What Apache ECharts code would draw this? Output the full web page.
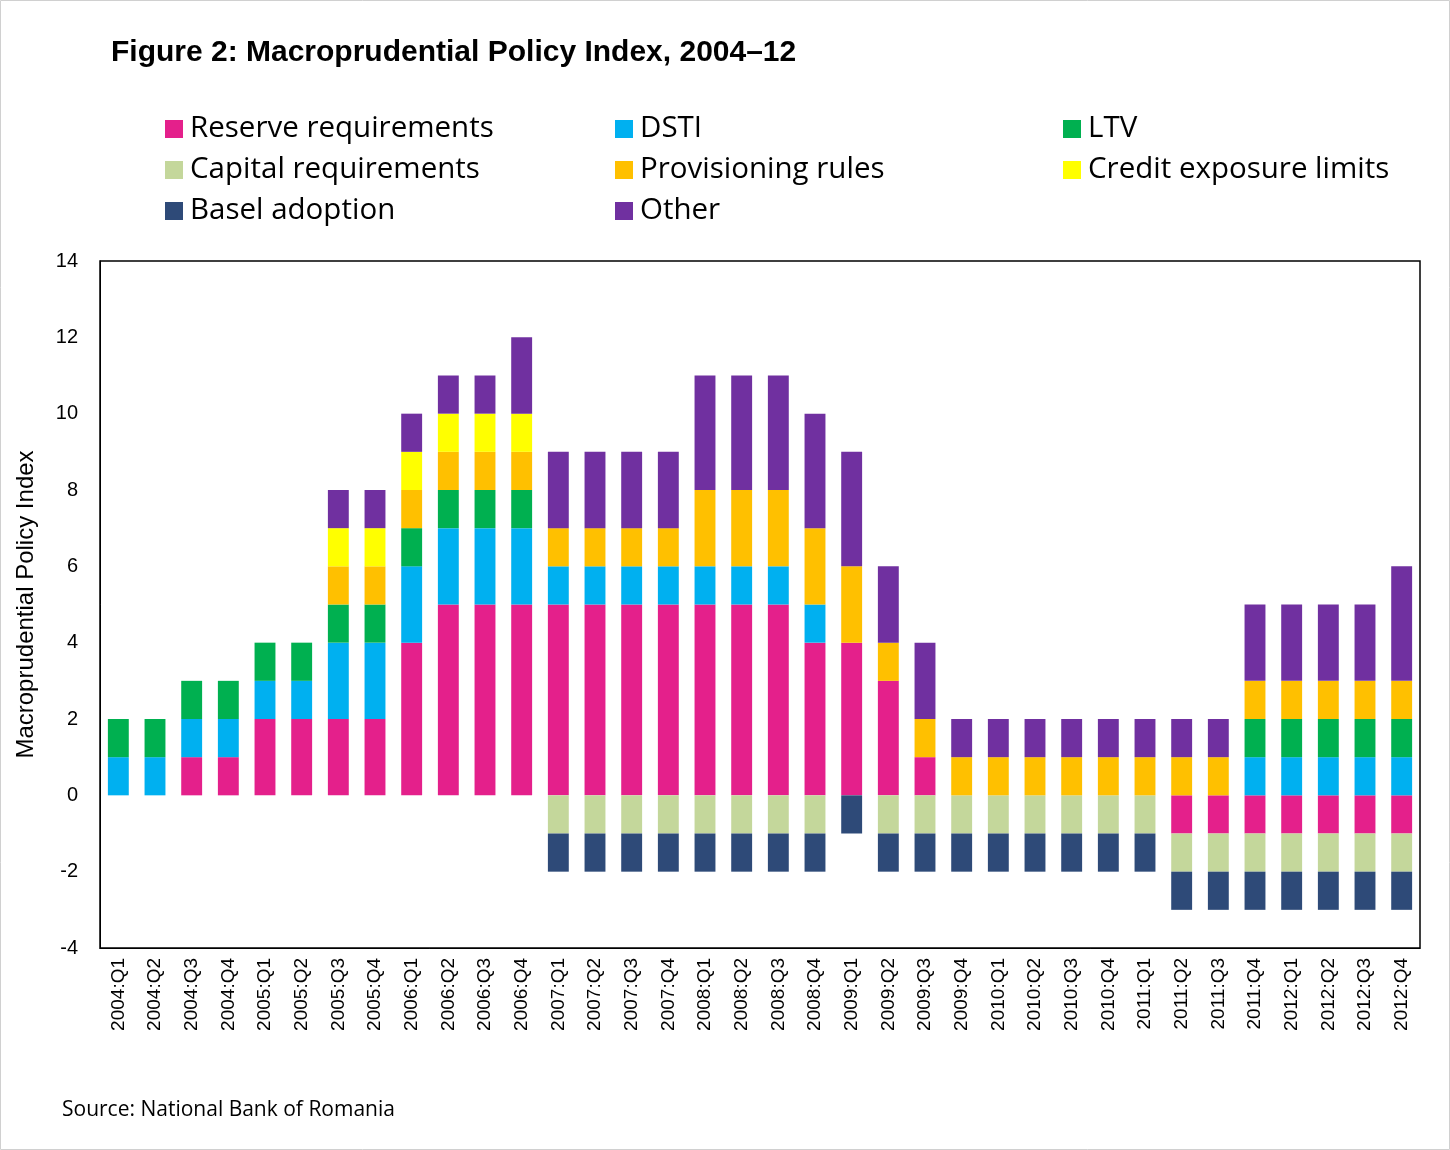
<!DOCTYPE html>
<html><head><meta charset="utf-8">
<script src="https://cdn.jsdelivr.net/npm/echarts@6/dist/echarts.min.js"></script>
<style>html,body{margin:0;padding:0;background:#fff}#c{width:1450px;height:1150px}</style>
</head><body><div id="c"></div>
<script>
const categories=[];
for(let y=2004;y<=2012;y++)for(let q=1;q<=4;q++)categories.push(y+':Q'+q);
const reserve=[0,0,1,1,2,2,2,2,4,5,5,5,5,5,5,5,5,5,5,4,4,3,1,0,0,0,0,0,0,-1,-1,-1,-1,-1,-1,-1];
const dsti=[1,1,1,1,1,1,2,2,2,2,2,2,1,1,1,1,1,1,1,1,0,0,0,0,0,0,0,0,0,0,0,1,1,1,1,1];
const ltv=[1,1,1,1,1,1,1,1,1,1,1,1,0,0,0,0,0,0,0,0,0,0,0,0,0,0,0,0,0,0,0,1,1,1,1,1];
const capital=[0,0,0,0,0,0,0,0,0,0,0,0,-1,-1,-1,-1,-1,-1,-1,-1,0,-1,-1,-1,-1,-1,-1,-1,-1,-1,-1,-1,-1,-1,-1,-1];
const provisioning=[0,0,0,0,0,0,1,1,1,1,1,1,1,1,1,1,2,2,2,2,2,1,1,1,1,1,1,1,1,1,1,1,1,1,1,1];
const credit=[0,0,0,0,0,0,1,1,1,1,1,1,0,0,0,0,0,0,0,0,0,0,0,0,0,0,0,0,0,0,0,0,0,0,0,0];
const basel=[0,0,0,0,0,0,0,0,0,0,0,0,-1,-1,-1,-1,-1,-1,-1,-1,-1,-1,-1,-1,-1,-1,-1,-1,-1,-1,-1,-1,-1,-1,-1,-1];
const other=[0,0,0,0,0,0,1,1,1,1,1,2,2,2,2,2,3,3,3,3,3,2,2,1,1,1,1,1,1,1,1,2,2,2,2,3];
const yTicks={min:-4,max:14,interval:2};
const S=[
 ['Reserve requirements',reserve,'#E4208B'],
 ['DSTI',dsti,'#00B0F0'],
 ['LTV',ltv,'#00B050'],
 ['Capital requirements',capital,'#C4D79B'],
 ['Provisioning rules',provisioning,'#FFC000'],
 ['Credit exposure limits',credit,'#FFFF00'],
 ['Basel adoption',basel,'#2E4A78'],
 ['Other',other,'#7030A0']];
const lg=(left,data)=>({left:left,top:109,orient:'vertical',itemWidth:18,itemHeight:18,itemGap:11,icon:'rect',
  data:data,textStyle:{fontFamily:'Open Sans',fontSize:29.5,color:'#000',padding:[0,0,0,2]},selectedMode:false});
const chart=echarts.init(document.getElementById('c'));
chart.setOption({
 animation:false,
 title:{text:'Figure 2: Macroprudential Policy Index, 2004–12',left:106,top:33,
   textStyle:{fontFamily:'Liberation Sans',fontWeight:'bold',fontSize:30,color:'#000'}},
 graphic:[{type:'text',left:62,top:1100,style:{text:'Source: National Bank of Romania',font:'21px "Open Sans"',fill:'#000'}},
  {type:'rect',shape:{x:0.5,y:0.5,width:1449,height:1149},style:{fill:'none',stroke:'#d0d0d0'}}],
 legend:[lg(160,['Reserve requirements','Capital requirements','Basel adoption']),
   lg(610,['DSTI','Provisioning rules','Other']),
   lg(1058,['LTV','Credit exposure limits'])],
 grid:{left:100,right:30,top:261,bottom:202,show:true,borderColor:'#000',borderWidth:1.5,backgroundColor:'transparent'},
 xAxis:{type:'category',data:categories,axisLine:{onZero:false,lineStyle:{color:'#000'}},axisTick:{show:false},
   axisLabel:{rotate:90,fontFamily:'Liberation Sans',fontSize:19,color:'#000',interval:0,margin:10}},
 yAxis:{type:'value',min:yTicks.min,max:yTicks.max,interval:yTicks.interval,splitLine:{show:false},
   axisLine:{show:true,lineStyle:{color:'#000'}},axisTick:{show:false},
   axisLabel:{fontFamily:'Liberation Sans',fontSize:20,color:'#000',margin:22},
   name:'Macroprudential Policy Index',nameLocation:'middle',nameGap:62,
   nameTextStyle:{fontFamily:'Liberation Sans',fontSize:24,color:'#000'}},
 series:S.map(s=>({name:s[0],type:'bar',stack:'a',data:s[1],barWidth:'57%',itemStyle:{color:s[2]}}))
});
</script></body></html>
